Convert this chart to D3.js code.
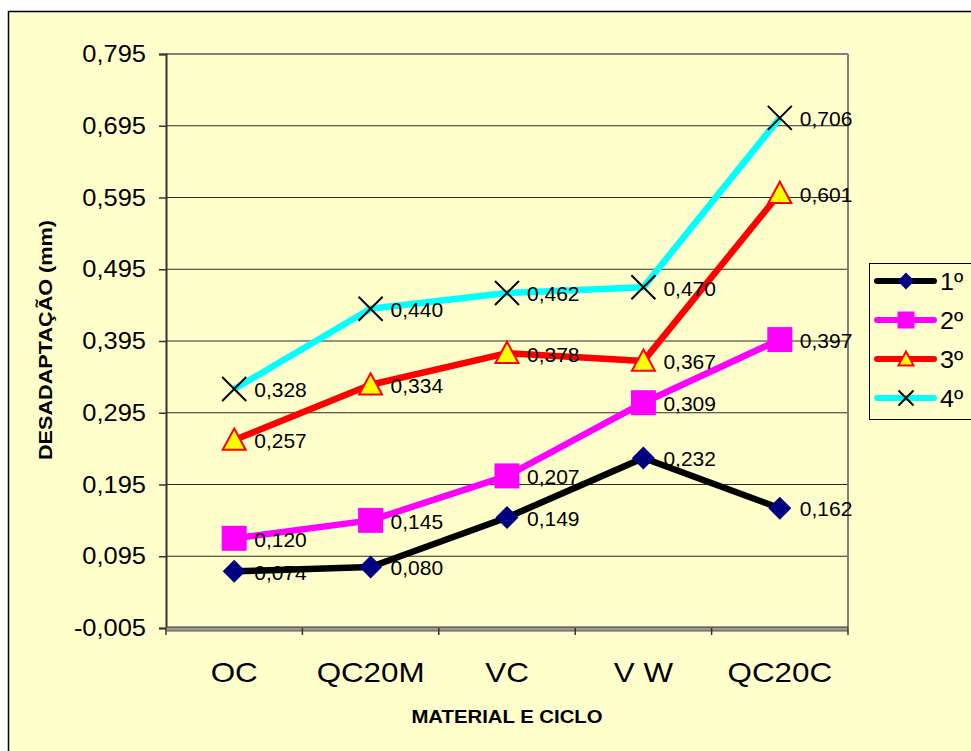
<!DOCTYPE html>
<html>
<head>
<meta charset="utf-8">
<script src="https://cdn.jsdelivr.net/npm/d3@7"></script>
<style>
  html, body { margin: 0; padding: 0; background: #ffffff; }
  svg { display: block; font-family: Arial, "Liberation Sans", sans-serif; }
</style>
</head>
<body>
<svg id="chart" width="971" height="751"></svg>
<script>
// Categories (material and cycle)
const categories = ["OC", "QC20M", "VC", "V W", "QC20C"];

// Series values (mm)
const serie1 = [0.074, 0.080, 0.149, 0.232, 0.162];
const serie2 = [0.120, 0.145, 0.207, 0.309, 0.397];
const serie3 = [0.257, 0.334, 0.378, 0.367, 0.601];
const serie4 = [0.328, 0.440, 0.462, 0.470, 0.706];

const seriesNames = ["1º", "2º", "3º", "4º"];

// Y axis tick values
const yTicks = [-0.005, 0.095, 0.195, 0.295, 0.395, 0.495, 0.595, 0.695, 0.795];

const styles = [
  { line: "#000000", marker: "diamond", fill: "#000080", stroke: "none" },
  { line: "#FF00FF", marker: "square", fill: "#FF00FF", stroke: "none" },
  { line: "#FF0000", marker: "triangle", fill: "#FFFF00", stroke: "#FF0000" },
  { line: "#00FFFF", marker: "cross", fill: "none", stroke: "#000000" }
];

const series = [serie1, serie2, serie3, serie4].map((vals, i) => ({
  name: seriesNames[i], values: vals, style: styles[i]
}));

const svg = d3.select("#chart");
const bg = "#FFFFCC";

// Chart area frame
svg.append("rect")
  .attr("x", 8.5).attr("y", 11.5)
  .attr("width", 1000).attr("height", 800)
  .attr("fill", bg).attr("stroke", "#000").attr("stroke-width", 1.5);

const plot = { left: 166, right: 848, top: 54, bottom: 628 };

const x = d3.scaleBand().domain(categories).range([plot.left, plot.right]);
const cx = c => x(c) + x.bandwidth() / 2;
const y = d3.scaleLinear().domain([-0.005, 0.795]).range([plot.bottom, plot.top]);

const fmt = v => d3.format(".3f")(v).replace(".", ",").replace("−", "-");

// Horizontally stretched text helper
function stext(g, tx, ty, str, opts) {
  const t = g.append("text")
    .attr("transform", `translate(${tx},${ty})${opts.rotate ? " rotate(" + opts.rotate + ")" : ""} scale(${opts.sx || 1.1},1)`)
    .attr("font-size", opts.size)
    .attr("font-weight", opts.weight || "normal")
    .attr("text-anchor", opts.anchor || "start")
    .attr("dominant-baseline", "central")
    .attr("fill", "#000")
    .text(str);
  return t;
}

// Gridlines
const grid = svg.append("g");
grid.selectAll("line")
  .data(yTicks.slice(1, -1))
  .join("line")
  .attr("x1", plot.left).attr("x2", plot.right)
  .attr("y1", d => y(d)).attr("y2", d => y(d))
  .attr("stroke", "#2a2a2a").attr("stroke-width", 1);

// Plot border (top and right, gray)
svg.append("line")
  .attr("x1", plot.left).attr("x2", plot.right)
  .attr("y1", y(0.795)).attr("y2", y(0.795))
  .attr("stroke", "#808080").attr("stroke-width", 2);
svg.append("line")
  .attr("x1", plot.right).attr("x2", plot.right)
  .attr("y1", plot.top).attr("y2", plot.bottom)
  .attr("stroke", "#808080").attr("stroke-width", 2);

// Y axis
const yAxis = d3.axisLeft(y).tickValues(yTicks).tickSize(7).tickFormat(() => "");
const yg = svg.append("g").attr("transform", `translate(${plot.left},0)`).call(yAxis);
yg.select(".domain").attr("stroke", "#333").attr("stroke-width", 2);
yg.selectAll(".tick line").attr("stroke", "#333").attr("stroke-width", 1.5);
yTicks.forEach(v => {
  stext(svg, 146, y(v), fmt(v), { size: 24, anchor: "end", sx: 1.06 });
});

// X axis (double line with tick marks at category boundaries)
const boundaries = categories.map(c => x(c)).concat([plot.right]);
svg.append("line")
  .attr("x1", plot.left).attr("x2", plot.right)
  .attr("y1", plot.bottom + 1).attr("y2", plot.bottom + 1)
  .attr("stroke", "#9a9a9a").attr("stroke-width", 4);
svg.append("line")
  .attr("x1", plot.left).attr("x2", plot.right)
  .attr("y1", plot.bottom - 1).attr("y2", plot.bottom - 1)
  .attr("stroke", "#333").attr("stroke-width", 1);
svg.append("line")
  .attr("x1", plot.left).attr("x2", plot.right)
  .attr("y1", plot.bottom + 3).attr("y2", plot.bottom + 3)
  .attr("stroke", "#555").attr("stroke-width", 1);
svg.append("g").selectAll("line")
  .data(boundaries)
  .join("line")
  .attr("x1", d => d).attr("x2", d => d)
  .attr("y1", plot.bottom).attr("y2", plot.bottom + 7)
  .attr("stroke", "#333").attr("stroke-width", 1.5);
categories.forEach(c => {
  stext(svg, cx(c), 672, c, { size: 28.5, anchor: "middle", sx: 1.1 });
});

// Axis titles
stext(svg, 507, 717, "MATERIAL E CICLO", { size: 18, weight: "bold", anchor: "middle", sx: 1.13 });
stext(svg, 46, 340, "DESADAPTAÇÃO (mm)", { size: 18.5, weight: "bold", anchor: "middle", rotate: -90, sx: 1.17 });

// Marker drawing
function drawMarker(g, kind, px, py, size, st) {
  if (kind === "diamond") {
    const h = size / 2;
    g.append("path")
      .attr("d", `M${px},${py - h}L${px + h},${py}L${px},${py + h}L${px - h},${py}Z`)
      .attr("fill", st.fill);
  } else if (kind === "square") {
    g.append("rect")
      .attr("x", px - size / 2).attr("y", py - size / 2)
      .attr("width", size).attr("height", size)
      .attr("fill", st.fill);
  } else if (kind === "triangle") {
    const h = size / 2;
    g.append("path")
      .attr("d", `M${px},${py - h}L${px + h},${py + h * 0.85}L${px - h},${py + h * 0.85}Z`)
      .attr("fill", st.fill).attr("stroke", st.stroke).attr("stroke-width", 2)
      .attr("stroke-linejoin", "miter");
  } else if (kind === "cross") {
    const h = size / 2;
    g.append("path")
      .attr("d", `M${px - h},${py - h}L${px + h},${py + h}M${px - h},${py + h}L${px + h},${py - h}`)
      .attr("stroke", st.stroke).attr("stroke-width", 2).attr("fill", "none");
  }
}

const markerSize = { diamond: 23, square: 25, triangle: 23, cross: 24 };

const line = d3.line().x((d, i) => cx(categories[i])).y(d => y(d));

// Series lines
const linesG = svg.append("g");
series.forEach(s => {
  linesG.append("path")
    .datum(s.values)
    .attr("d", line)
    .attr("fill", "none")
    .attr("stroke", s.style.line)
    .attr("stroke-width", 6.5)
    .attr("stroke-linejoin", "round");
});

// Markers
const markG = svg.append("g");
series.forEach(s => {
  s.values.forEach((v, i) => {
    drawMarker(markG, s.style.marker, cx(categories[i]), y(v), markerSize[s.style.marker], s.style);
  });
});

// Data labels
const labelG = svg.append("g");
series.forEach(s => {
  s.values.forEach((v, i) => {
    stext(labelG, cx(categories[i]) + 20, y(v) + 1, fmt(v), { size: 20, sx: 1.05 });
  });
});

// Legend
const legend = svg.append("g");
legend.append("rect")
  .attr("x", 869.5).attr("y", 263.5)
  .attr("width", 120).attr("height", 156)
  .attr("fill", bg).attr("stroke", "#000").attr("stroke-width", 1);
const legendY = [281, 320, 359, 398];
const legendMarker = { diamond: 17, square: 17, triangle: 15, cross: 15 };
series.forEach((s, i) => {
  const ly = legendY[i];
  legend.append("line")
    .attr("x1", 877).attr("x2", 934)
    .attr("y1", ly).attr("y2", ly)
    .attr("stroke", s.style.line).attr("stroke-width", 6)
    .attr("stroke-linecap", "round");
  drawMarker(legend, s.style.marker, 906, ly, legendMarker[s.style.marker], s.style);
  stext(legend, 940, ly + 1, s.name, { size: 24, sx: 1.05 });
});
</script>
</body>
</html>
